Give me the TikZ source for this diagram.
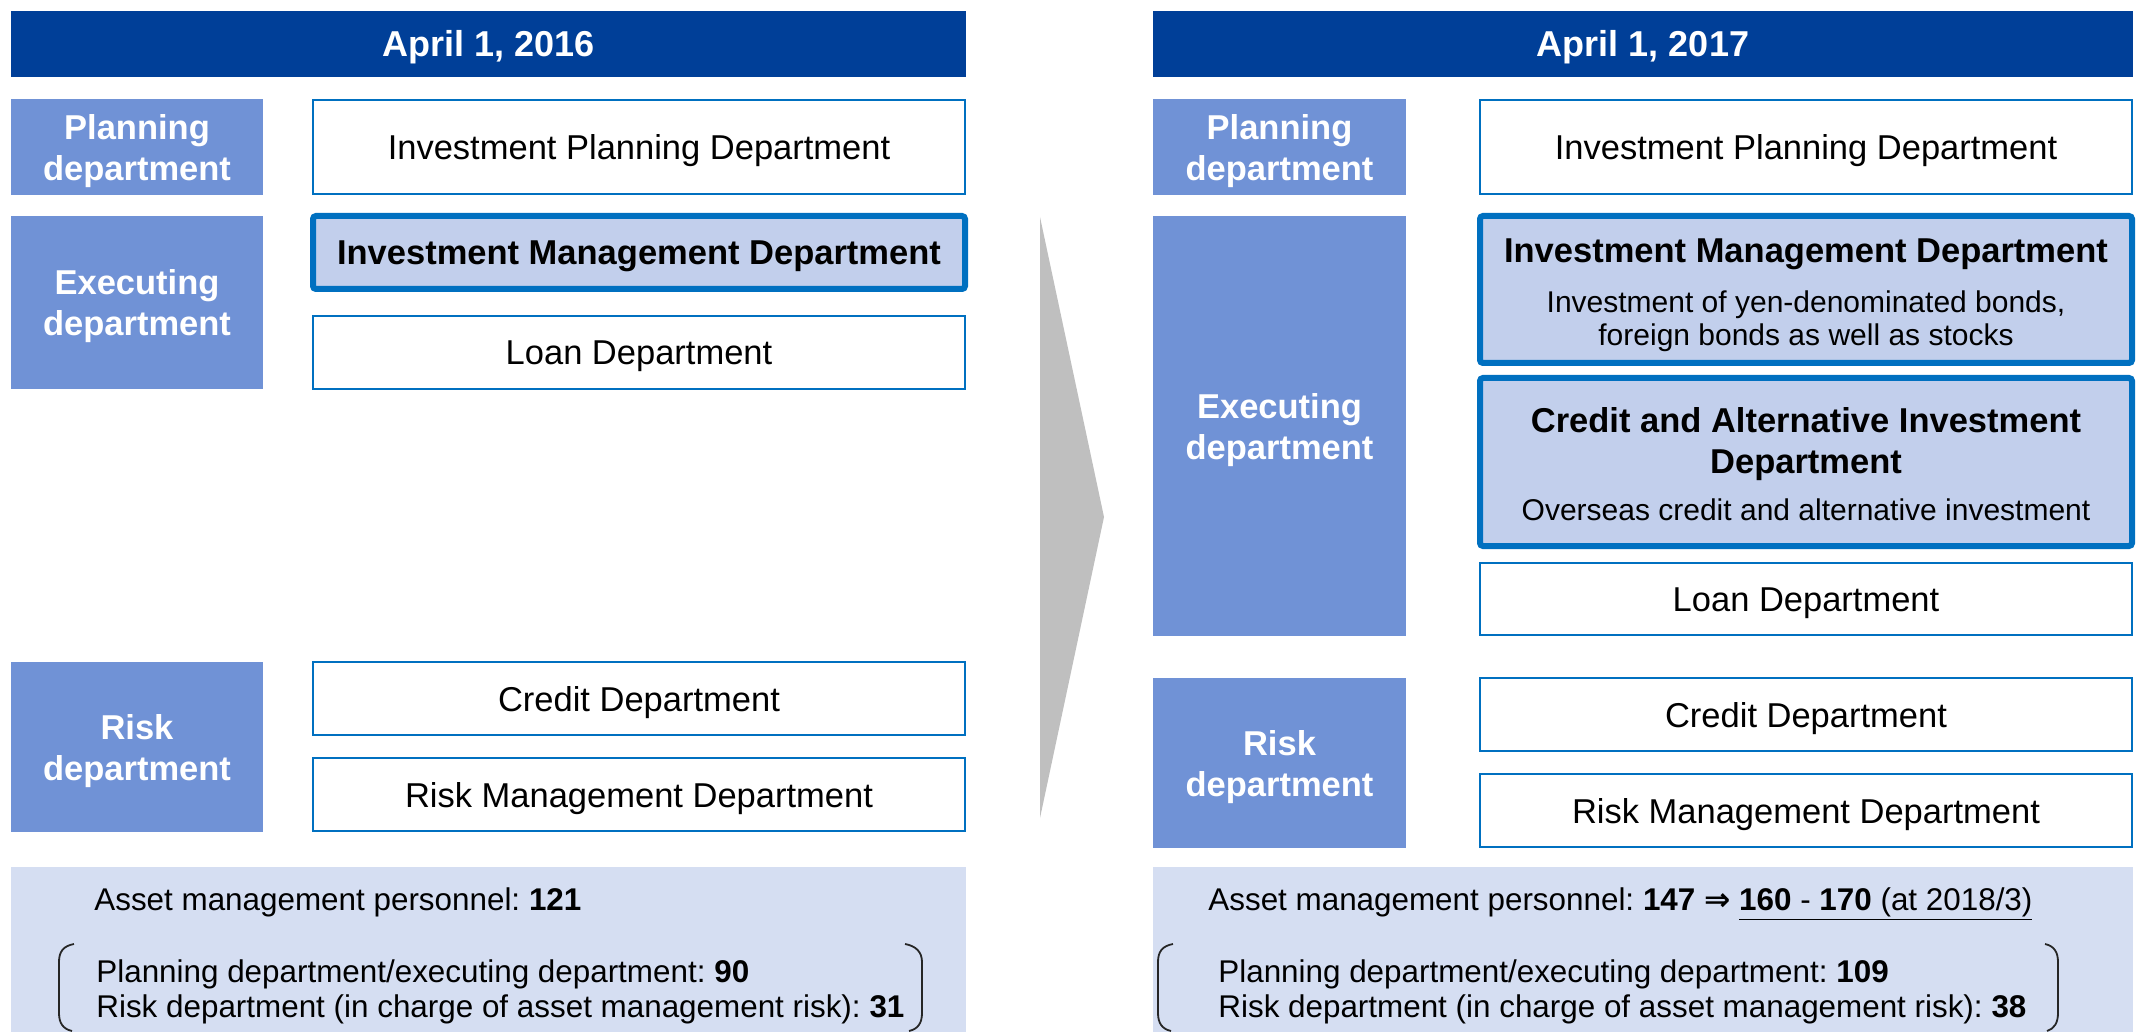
\documentclass[tikz,border=0pt]{standalone}
\usepackage{fontspec}
\setmainfont{Liberation Sans}
\newfontfamily\dejavu{DejaVu Sans}
\usetikzlibrary{fit}
\definecolor{hdr}{RGB}{0,63,152}
\definecolor{cat}{RGB}{112,146,214}
\definecolor{bline}{RGB}{0,112,192}
\definecolor{lfill}{RGB}{194,207,236}
\definecolor{panelc}{RGB}{213,222,242}
\definecolor{arrc}{RGB}{191,191,191}
\frenchspacing
\begin{document}
\begin{tikzpicture}[x=0.5pt,y=-0.5pt,
  hdrbox/.style={fill=hdr, draw=none, inner sep=0pt},
  catbox/.style={fill=cat, draw=none, inner sep=0pt},
  deptbox/.style={draw=bline, line width=1.25pt, fill=white, inner sep=0pt},
  keybox/.style={draw=bline, line width=3pt, fill=lfill, rounded corners=1.5pt, inner sep=0pt},
  panelbox/.style={fill=panelc, draw=none, inner sep=0pt},
  hdrtxt/.style={inner sep=0pt, yshift=-1.5pt, text=white, font=\fontsize{18}{21}\selectfont\bfseries},
  cattxt/.style={inner sep=0pt, yshift=-2pt, text=white, align=center, font=\fontsize{17.25}{20.5}\selectfont\bfseries},
  depttxt/.style={inner sep=0pt, yshift=-2pt, align=center, font=\fontsize{17.25}{20.5}\selectfont},
  titletxt/.style={inner sep=0pt, align=center, font=\fontsize{17.25}{20.5}\selectfont\bfseries},
  subtxt/.style={inner sep=0pt, align=center, font=\fontsize{15}{16.5}\selectfont},
  bottxt/.style={inner sep=0pt, anchor=base west, font=\fontsize{15.7}{18}\selectfont\frenchspacing},
  parenline/.style={draw=black!85, line width=0.9pt},
  bigarrow/.style={fill=arrc, draw=none}
]
\useasboundingbox (0,0) rectangle (2143,1032);

% ---------- left column (2016) ----------
\node[hdrbox, fit={(11,11) (966,77)}] (hL) {};
\node[hdrtxt] (hLt) at (hL.center) {April 1, 2016};
\node[catbox, fit={(11,99) (263,195)}] (planL) {};
\node[cattxt] (planLt) at (planL.center) {Planning\\department};
\node[catbox, fit={(11,216) (263,389)}] (execL) {};
\node[cattxt] (execLt) at (execL.center) {Executing\\department};
\node[catbox, fit={(11,662) (263,832)}] (riskL) {};
\node[cattxt] (riskLt) at (riskL.center) {Risk\\department};
\node[deptbox, fit={(313,100) (965,194)}] (ipdL) {};
\node[depttxt] (ipdLt) at (ipdL.center) {Investment Planning Department};
\node[keybox, fit={(313,216) (965,289)}] (imdL) {};
\node[titletxt, yshift=-2pt] (imdLt) at (imdL.center) {Investment Management Department};
\node[deptbox, fit={(313,316) (965,389)}] (loanL) {};
\node[depttxt] (loanLt) at (loanL.center) {Loan Department};
\node[deptbox, fit={(313,662) (965,735)}] (credL) {};
\node[depttxt] (credLt) at (credL.center) {Credit Department};
\node[deptbox, fit={(313,758) (965,831)}] (rmdL) {};
\node[depttxt] (rmdLt) at (rmdL.center) {Risk Management Department};
\node[panelbox, fit={(11,867) (966,1032)}] (panL) {};
\node[bottxt] (pL1) at (94,910) {Asset management personnel: \textbf{121}};
\node[bottxt] (pL2) at (96,982) {Planning department/executing department: \textbf{90}};
\node[bottxt] (pL3) at (96,1017) {Risk department (in charge of asset management risk): \textbf{31}};
\draw[parenline] (74,944) .. controls (63,946) and (59,952) .. (59,962) -- (59,1013) .. controls (59,1023) and (63,1029) .. (72,1031);
\draw[parenline] (905,944) .. controls (916,946) and (922,952) .. (922,962) -- (922,1013) .. controls (922,1023) and (918,1029) .. (909,1031);

% ---------- arrow ----------
\fill[bigarrow] (1040,217) -- (1104,517) -- (1040,818) -- cycle;

% ---------- right column (2017) ----------
\node[hdrbox, fit={(1153,11) (2133,77)}] (hR) {};
\node[hdrtxt] (hRt) at (hR.center) {April 1, 2017};
\node[catbox, fit={(1153,99) (1406,195)}] (planR) {};
\node[cattxt] (planRt) at (planR.center) {Planning\\department};
\node[catbox, fit={(1153,216) (1406,636)}] (execR) {};
\node[cattxt] (execRt) at (execR.center) {Executing\\department};
\node[catbox, fit={(1153,678) (1406,848)}] (riskR) {};
\node[cattxt] (riskRt) at (riskR.center) {Risk\\department};
\node[deptbox, fit={(1480,100) (2132,194)}] (ipdR) {};
\node[depttxt] (ipdRt) at (ipdR.center) {Investment Planning Department};
\node[keybox, fit={(1480,216) (2132,363)}] (imdR) {};
\node[titletxt] (imdRt) at (1806,254) {Investment Management Department};
\node[subtxt] (imdRs) at (1806,321) {Investment of yen-denominated bonds,\\foreign bonds as well as stocks};
\node[keybox, fit={(1480,378) (2132,546)}] (caidR) {};
\node[titletxt] (caidRt) at (1806,444) {Credit and Alternative Investment\\Department};
\node[subtxt] (caidRs) at (1806,510) {Overseas credit and alternative investment};
\node[deptbox, fit={(1480,563) (2132,635)}] (loanR) {};
\node[depttxt] (loanRt) at (loanR.center) {Loan Department};
\node[deptbox, fit={(1480,678) (2132,751)}] (credR) {};
\node[depttxt] (credRt) at (credR.center) {Credit Department};
\node[deptbox, fit={(1480,774) (2132,847)}] (rmdR) {};
\node[depttxt] (rmdRt) at (rmdR.center) {Risk Management Department};
\node[panelbox, fit={(1153,867) (2133,1032)}] (panR) {};
\node[bottxt] (pR1) at (1208,910) {Asset management personnel: \textbf{147} {\dejavu\bfseries ⇒} \underline{\textbf{160} - \textbf{170} (at 2018/3)}};
\node[bottxt] (pR2) at (1218,982) {Planning department/executing department: \textbf{109}};
\node[bottxt] (pR3) at (1218,1017) {Risk department (in charge of asset management risk): \textbf{38}};
\draw[parenline] (1173,944) .. controls (1162,946) and (1158,952) .. (1158,962) -- (1158,1013) .. controls (1158,1023) and (1162,1029) .. (1171,1031);
\draw[parenline] (2045,944) .. controls (2054,946) and (2058,952) .. (2058,962) -- (2058,1013) .. controls (2058,1023) and (2054,1029) .. (2047,1031);
\end{tikzpicture}
\end{document}
